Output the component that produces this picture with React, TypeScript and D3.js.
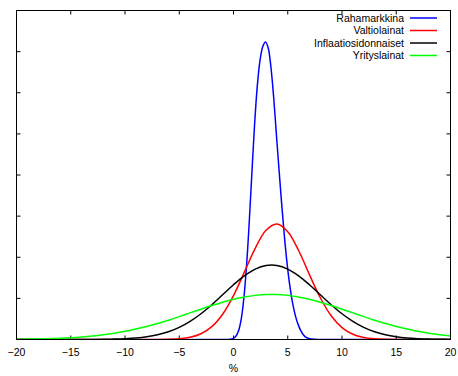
import React from "react";
import * as d3 from "d3";

// ---- data (density) ----
const xGrid = [-20,-19,-18,-17,-16,-15,-14,-13,-12,-11,-10,-9,-8,-7,-6,-5,-4,-3,-2,-1,0,1,2,3,4,5,6,7,8,9,10,11,12,13,14,15,16,17,18,19,20];

const greenValues = [0.00031,0.00047,0.00072,0.00106,0.00155,0.00221,0.00310,0.00426,0.00575,0.00762,0.00991,0.01265,0.01584,0.01948,0.02350,0.02782,0.03233,0.03686,0.04126,0.04532,0.04885,0.05168,0.05365,0.05467,0.05467,0.05365,0.05168,0.04885,0.04532,0.04126,0.03686,0.03233,0.02782,0.02350,0.01948,0.01584,0.01265,0.00991,0.00762,0.00575,0.00426];

const blackValues = [0,0,0,0,0.000006,0.000017,0.000041,0.000097,0.00022,0.00046,0.00093,0.00178,0.00326,0.00566,0.00936,0.01472,0.02201,0.03129,0.04231,0.05439,0.06652,0.07734,0.08552,0.08993,0.08993,0.08552,0.07734,0.06652,0.05439,0.04231,0.03129,0.02201,0.01472,0.00936,0.00566,0.00326,0.00178,0.00093,0.00046,0.00022,0.0001];

const redValues = [0,0,0,0,0,0,0,0,0,0,0,0,0.00002,0.00008,0.0003,0.00098,0.00279,0.00703,0.01564,0.03074,0.05337,0.08185,0.1109,0.1328,0.1404,0.1311,0.1082,0.07886,0.05078,0.02888,0.01452,0.00644,0.00253,0.00088,0.00027,0.00007,0.00002,0,0,0,0];

const blueX = [-20,-1,-0.3,-0.05,0.2,0.45,0.7,0.95,1.2,1.45,1.7,1.95,2.2,2.45,2.7,2.95,3.2,3.45,3.7,3.95,4.2,4.45,4.7,4.95,5.2,5.45,5.7,5.95,6.2,6.45,6.7,6.95,7.45,7.95,9,20];
const blueValues = [0,0,0.0003,0.0011,0.0036,0.0101,0.0240,0.0496,0.0893,0.1425,0.2036,0.2630,0.3093,0.3400,0.3563,0.3617,0.3545,0.3310,0.2948,0.2499,0.2058,0.1631,0.1242,0.0911,0.0646,0.0441,0.0290,0.0184,0.0109,0.0054,0.0025,0.0011,0.0002,0,0,0];

const seriesNames = ["Rahamarkkina", "Valtiolainat", "Inflaatiosidonnaiset", "Yrityslainat"];
const seriesColors = ["#0000ff", "#ff0000", "#000000", "#00ff00"];
const xTicks = [-20, -15, -10, -5, 0, 5, 10, 15, 20];
const yTicks = [0.05, 0.1, 0.15, 0.2, 0.25, 0.3, 0.35];
const xLabel = "%";

const W = 458, H = 376;
const L = 16.5, R = 450.5, T = 10.5, B = 339.5;
const FONT = "'Liberation Sans', Arial, sans-serif";

export default function App() {
  const x = d3.scaleLinear().domain([-20, 20]).range([L, R]);
  const y = d3.scaleLinear().domain([0, 0.4]).range([B, T]);
  const line = d3.line<[number, number]>()
    .x(d => x(d[0])).y(d => Math.min(B, y(d[1]))).curve(d3.curveCatmullRom.alpha(0.5));

  const series: [number, number][][] = [
    blueX.map((v, i) => [v, blueValues[i]]),
    xGrid.map((v, i) => [v, redValues[i]]),
    xGrid.map((v, i) => [v, blackValues[i]]),
    xGrid.map((v, i) => [v, greenValues[i]]),
  ];

  const tick = 4;
  const legendRows = [18, 30.5, 43, 55.5];

  return (
    <svg width={W} height={H} style={{ position: "absolute", left: 0, top: 0, background: "#fff" }}
      fontFamily={FONT}>
      <rect x={0} y={0} width={W} height={H} fill="#fff" />
      <defs>
        <clipPath id="plot"><rect x={L} y={T} width={R - L} height={B - T} /></clipPath>
      </defs>
      {xTicks.map(t => (
        <g key={"xt" + t}>
          <line x1={x(t)} x2={x(t)} y1={B} y2={B - tick} stroke="#000" strokeWidth={1} />
          <line x1={x(t)} x2={x(t)} y1={T} y2={T + tick} stroke="#000" strokeWidth={1} />
          <text x={x(t)} y={356} textAnchor="middle" fontSize={10.5} fill="#000">{t < 0 ? "\u2212" + Math.abs(t) : String(t)}</text>
        </g>
      ))}
      {yTicks.map(t => (
        <g key={"yt" + t}>
          <line x1={L} x2={L + tick} y1={y(t)} y2={y(t)} stroke="#000" strokeWidth={1} />
          <line x1={R} x2={R - tick} y1={y(t)} y2={y(t)} stroke="#000" strokeWidth={1} />
        </g>
      ))}
      <text x={x(0)} y={372} textAnchor="middle" fontSize={10.5} fill="#000">{xLabel}</text>
      <g clipPath="url(#plot)">
        {series.map((s, i) => (
          <path key={i} d={line(s) || ""} fill="none" stroke={seriesColors[i]} strokeWidth={1.5} />
        ))}
      </g>
      <rect x={L} y={T} width={R - L} height={B - T} fill="none" stroke="#000" strokeWidth={1} />
      {seriesNames.map((n, i) => (
        <g key={n}>
          <text x={404} y={legendRows[i]} dy="0.35em" textAnchor="end" fontSize={10.5} fill="#000">{n}</text>
          <line x1={410} x2={437} y1={legendRows[i]} y2={legendRows[i]} stroke={seriesColors[i]} strokeWidth={1.5} />
        </g>
      ))}
    </svg>
  );
}
